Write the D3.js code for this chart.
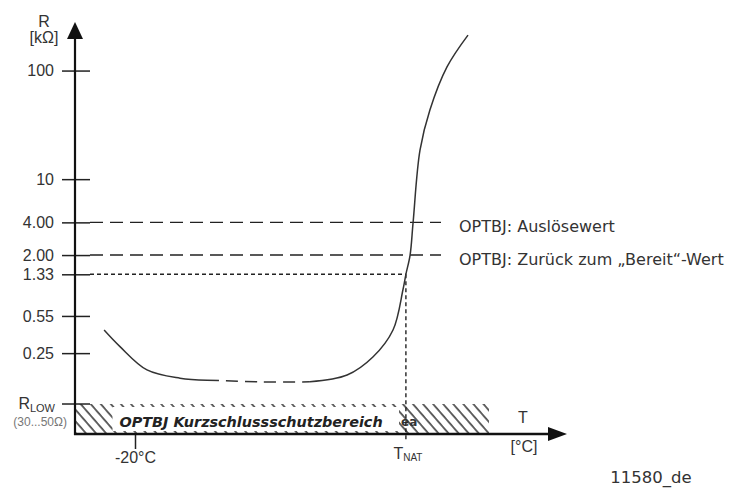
<!DOCTYPE html>
<html>
<head>
<meta charset="utf-8">
<script src="https://cdn.jsdelivr.net/npm/d3@7"></script>
<style>
  body { margin: 0; background: #fff; }
  svg { display: block; }
</style>
</head>
<body>
<svg class="chart" width="729" height="489"></svg>
<script>
// R axis ticks (kOhm) - the original is a schematic, roughly logarithmic
const rTicks = [100, 10, 4, 2, 1.33, 0.55, 0.25];
const rTickLabels = ["100", "10", "4.00", "2.00", "1.33", "0.55", "0.25"];
const rLow = 0.085;
const rTrip = 4, rReset = 2, rNat = 1.33;

// temperature points (°C)
const tCold = -20;
const tNat = 70.3;

// PTC curve, [T, R]
const coldBranch = [[-30.3, 0.408], [-25, 0.287], [-16, 0.175], [-5, 0.147], [4, 0.141]];
const flatBranch = [[4, 0.141], [21.7, 0.136], [38.3, 0.136]];
const hotBranch = [[38.3, 0.136], [50.7, 0.157], [59.3, 0.23], [66, 0.408], [69.3, 0.953],
  [70.3, 1.33], [71.7, 2.0], [72.7, 4.0], [75, 18.5], [78.3, 43.3], [84, 108], [91, 212]];

const thresholdLabels = ["OPTBJ: Auslösewert", "OPTBJ: Zurück zum „Bereit“-Wert"];
const zoneLabel = "OPTBJ Kurzschlussschutzbereich";
const zoneBox = [-27.5, 68];
const bandEnd = 98;
const docId = "11580_de";

const svg = d3.select(".chart");
const ink = "#222";
const textCol = "#333";

const xScale = d3.scaleLinear().domain([-40, 124]).range([75, 567]);
const yScale = d3.scaleLog().domain([0.045, 280]).range([434, 22]);

const x0 = xScale(-40), y0 = yScale(0.045);

// hatch pattern for the short-circuit band
const defs = svg.append("defs");
defs.append("pattern")
    .attr("id", "hatch")
    .attr("patternUnits", "userSpaceOnUse")
    .attr("width", 7.6)
    .attr("height", 10)
    .attr("patternTransform", "rotate(-41)")
  .append("line")
    .attr("x1", 1).attr("y1", -1)
    .attr("x2", 1).attr("y2", 11)
    .attr("stroke", "#333")
    .attr("stroke-width", 1.5);

svg.append("rect")
    .attr("x", x0)
    .attr("y", yScale(rLow))
    .attr("width", xScale(bandEnd) - x0)
    .attr("height", y0 - yScale(rLow))
    .attr("fill", "url(#hatch)");

svg.append("rect")
    .attr("x", xScale(zoneBox[0]))
    .attr("y", yScale(rLow) + 3)
    .attr("width", xScale(zoneBox[1]) - xScale(zoneBox[0]))
    .attr("height", y0 - yScale(rLow) - 6)
    .attr("fill", "#fff");

svg.append("text")
    .attr("x", xScale(zoneBox[0]) + 7)
    .attr("y", y0 - 7)
    .attr("font-family", "DejaVu Sans")
    .attr("font-weight", "bold")
    .attr("font-style", "italic")
    .attr("font-size", 14.4)
    .attr("fill", ink)
    .text(zoneLabel);

// stray glyphs of the original, overlapping the hatch
svg.append("text")
    .attr("x", xScale(zoneBox[1]) + 2)
    .attr("y", y0 - 8)
    .attr("font-family", "DejaVu Sans")
    .attr("font-weight", "bold")
    .attr("font-size", 12)
    .attr("fill", textCol)
    .text("ea");

// threshold lines
const hLines = [
  { r: rTrip, dash: "13,7", end: 82 },
  { r: rReset, dash: "13,7", end: 82 },
  { r: rNat, dash: "4,3", end: tNat }
];
svg.selectAll(".hline")
  .data(hLines)
  .join("line")
    .attr("class", "hline")
    .attr("x1", xScale(-35))
    .attr("x2", d => xScale(d.end))
    .attr("y1", d => yScale(d.r))
    .attr("y2", d => yScale(d.r))
    .attr("stroke", ink)
    .attr("stroke-width", 1.4)
    .attr("stroke-dasharray", d => d.dash);

svg.append("line")
    .attr("x1", xScale(tNat)).attr("x2", xScale(tNat))
    .attr("y1", yScale(rNat)).attr("y2", y0 + 8)
    .attr("stroke", ink)
    .attr("stroke-width", 1.4)
    .attr("stroke-dasharray", "4,3");

svg.selectAll(".thr-label")
  .data([rTrip, rReset])
  .join("text")
    .attr("class", "thr-label")
    .attr("x", xScale(88))
    .attr("y", d => yScale(d) + 10)
    .attr("font-family", "DejaVu Sans")
    .attr("font-size", 16)
    .attr("fill", textCol)
    .text((d, i) => thresholdLabels[i]);

// the curve
const curveLine = d3.line()
    .x(d => xScale(d[0]))
    .y(d => yScale(d[1]))
    .curve(d3.curveCatmullRom.alpha(0.5));

svg.selectAll(".branch")
  .data([coldBranch, flatBranch, hotBranch])
  .join("path")
    .attr("class", "branch")
    .attr("d", curveLine)
    .attr("fill", "none")
    .attr("stroke", "#333")
    .attr("stroke-width", 1.5)
    .attr("stroke-dasharray", (d, i) => i === 1 ? "12,7" : null);

// y axis
const yAxis = svg.append("g")
    .attr("transform", `translate(${x0},0)`)
    .call(d3.axisLeft(yScale)
      .tickValues(rTicks)
      .tickFormat((d, i) => rTickLabels[i])
      .tickSize(13)
      .tickPadding(8));
yAxis.select(".domain").remove();
yAxis.selectAll(".tick line").attr("x1", 15).attr("stroke", ink).attr("stroke-width", 1.5);
yAxis.selectAll(".tick text")
    .attr("font-family", "Liberation Sans")
    .attr("font-size", 16)
    .attr("fill", textCol);

// R_LOW tick
svg.append("line")
    .attr("x1", x0 - 13).attr("x2", x0 + 15)
    .attr("y1", yScale(rLow)).attr("y2", yScale(rLow))
    .attr("stroke", ink).attr("stroke-width", 1.5);
const rlow = svg.append("text")
    .attr("x", x0 - 20)
    .attr("y", yScale(rLow) + 5)
    .attr("text-anchor", "end")
    .attr("font-family", "Liberation Sans")
    .attr("font-size", 16)
    .attr("fill", textCol);
rlow.append("tspan").text("R");
rlow.append("tspan").attr("font-size", 11).attr("dy", 3).text("LOW");
svg.append("text")
    .attr("x", x0 - 8)
    .attr("y", yScale(rLow) + 22)
    .attr("text-anchor", "end")
    .attr("font-family", "Liberation Sans")
    .attr("font-size", 12)
    .attr("fill", "#777")
    .text("(30...50Ω)");

// x axis
const xAxis = svg.append("g")
    .attr("transform", `translate(0,${y0})`)
    .call(d3.axisBottom(xScale)
      .tickValues([tCold])
      .tickFormat(d => d + "°C")
      .tickSize(15)
      .tickPadding(3));
xAxis.select(".domain").remove();
xAxis.selectAll(".tick line").attr("stroke", ink).attr("stroke-width", 1.5);
xAxis.selectAll(".tick text")
    .attr("font-family", "Liberation Sans")
    .attr("font-size", 16)
    .attr("fill", textCol);

// axis lines with arrow heads
const yTop = yScale(280), xEnd = xScale(124);
svg.append("line")
    .attr("x1", x0).attr("x2", x0)
    .attr("y1", y0 + 1).attr("y2", yTop + 14)
    .attr("stroke", "#111").attr("stroke-width", 2.2);
svg.append("path")
    .attr("d", `M${x0},${yTop}L${x0 - 8},${yTop + 17}L${x0 + 8},${yTop + 17}Z`)
    .attr("fill", "#111");
svg.append("line")
    .attr("x1", x0 - 1).attr("x2", xEnd - 14)
    .attr("y1", y0).attr("y2", y0)
    .attr("stroke", "#111").attr("stroke-width", 2.5);
svg.append("path")
    .attr("d", `M${xEnd},${y0}L${xEnd - 19},${y0 - 7}L${xEnd - 19},${y0 + 7}Z`)
    .attr("fill", "#111");

// axis titles
const sans = "Liberation Sans";
svg.append("text")
    .attr("x", x0 - 31).attr("y", yTop + 5)
    .attr("text-anchor", "middle")
    .attr("font-family", sans).attr("font-size", 16).attr("fill", textCol)
    .text("R");
svg.append("text")
    .attr("x", x0 - 31).attr("y", yTop + 21)
    .attr("text-anchor", "middle")
    .attr("font-family", sans).attr("font-size", 16).attr("fill", textCol)
    .text("[kΩ]");
svg.append("text")
    .attr("x", xEnd - 44).attr("y", y0 - 11)
    .attr("text-anchor", "middle")
    .attr("font-family", sans).attr("font-size", 16).attr("fill", textCol)
    .text("T");
svg.append("text")
    .attr("x", xEnd - 43).attr("y", y0 + 18)
    .attr("text-anchor", "middle")
    .attr("font-family", sans).attr("font-size", 16).attr("fill", textCol)
    .text("[°C]");

const tnat = svg.append("text")
    .attr("x", xScale(tNat) + 2).attr("y", y0 + 25)
    .attr("text-anchor", "middle")
    .attr("font-family", sans).attr("font-size", 16).attr("fill", textCol);
tnat.append("tspan").text("T");
tnat.append("tspan").attr("font-size", 10).attr("dy", 2).text("NAT");

svg.append("text")
    .attr("x", 651).attr("y", 483)
    .attr("text-anchor", "middle")
    .attr("font-family", "DejaVu Sans").attr("font-size", 16.5).attr("fill", textCol)
    .text(docId);
</script>
</body>
</html>
